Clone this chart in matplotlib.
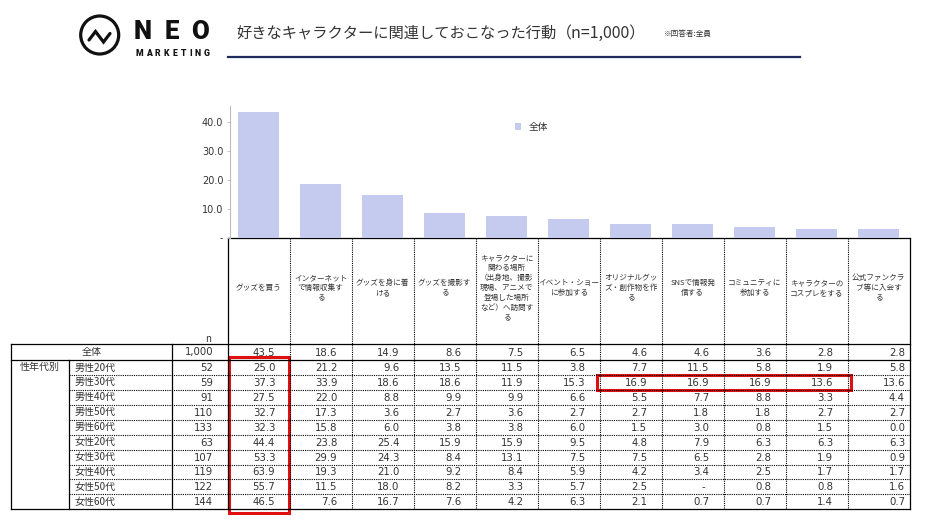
import matplotlib
matplotlib.use('Agg')
import matplotlib.pyplot as plt
from matplotlib.patches import Circle, Rectangle
from matplotlib.lines import Line2D

plt.rcParams['font.family'] = ['Noto Sans CJK JP', 'DejaVu Sans']

# ---- data ----
actions = [
    'グッズを買う',
    'インターネット\nで情報収集す\nる',
    'グッズを身に着\nける',
    'グッズを撮影す\nる',
    'キャラクターに\n関わる場所\n（出身地、撮影\n現場、アニメで\n登場した場所\nなど）へ訪問す\nる',
    'イベント・ショー\nに参加する',
    'オリジナルグッ\nズ・創作物を作\nる',
    'SNSで情報発\n信する',
    'コミュニティに\n参加する',
    'キャラクターの\nコスプレをする',
    '公式ファンクラ\nブ等に入会す\nる',
]
row_labels = ['全体', '男性20代', '男性30代', '男性40代', '男性50代', '男性60代',
              '女性20代', '女性30代', '女性40代', '女性50代', '女性60代']
group_label = '性年代別'
n_values = [1000, 52, 59, 91, 110, 133, 63, 107, 119, 122, 144]
table_values = [
    [43.5, 18.6, 14.9, 8.6, 7.5, 6.5, 4.6, 4.6, 3.6, 2.8, 2.8],
    [25.0, 21.2, 9.6, 13.5, 11.5, 3.8, 7.7, 11.5, 5.8, 1.9, 5.8],
    [37.3, 33.9, 18.6, 18.6, 11.9, 15.3, 16.9, 16.9, 16.9, 13.6, 13.6],
    [27.5, 22.0, 8.8, 9.9, 9.9, 6.6, 5.5, 7.7, 8.8, 3.3, 4.4],
    [32.7, 17.3, 3.6, 2.7, 3.6, 2.7, 2.7, 1.8, 1.8, 2.7, 2.7],
    [32.3, 15.8, 6.0, 3.8, 3.8, 6.0, 1.5, 3.0, 0.8, 1.5, 0.0],
    [44.4, 23.8, 25.4, 15.9, 15.9, 9.5, 4.8, 7.9, 6.3, 6.3, 6.3],
    [53.3, 29.9, 24.3, 8.4, 13.1, 7.5, 7.5, 6.5, 2.8, 1.9, 0.9],
    [63.9, 19.3, 21.0, 9.2, 8.4, 5.9, 4.2, 3.4, 2.5, 1.7, 1.7],
    [55.7, 11.5, 18.0, 8.2, 3.3, 5.7, 2.5, None, 0.8, 0.8, 1.6],
    [46.5, 7.6, 16.7, 7.6, 4.2, 6.3, 2.1, 0.7, 0.7, 1.4, 0.7],
]
overall = table_values[0]
y_ticks = [0, 10, 20, 30, 40]
y_tick_labels = ['-', '10.0', '20.0', '30.0', '40.0']
title = '好きなキャラクターに関連しておこなった行動'
title_n = '（n=1,000）'
note = '※回答者:全員'

# ---- layout (pixels) ----
W, H = 936, 525
col_left = 227.7
col_w = 62.0
col_x = [col_left + col_w * i for i in range(len(actions) + 1)]
tbl_left, grp_x, n_x = 11, 69.3, 171.7
head_top, rows_top, first_bottom, tbl_bottom = 238, 344, 360, 509.3
row_h = (tbl_bottom - first_bottom) / (len(row_labels) - 1)
row_y = [rows_top, first_bottom] + [first_bottom + row_h * i for i in range(1, len(row_labels))]
ink = '#333333'
bar_color = '#c4cbee'

fig = plt.figure(figsize=(W / 100, H / 100), dpi=100)
ov = fig.add_axes([0, 0, 1, 1])
ov.set_xlim(0, W)
ov.set_ylim(H, 0)
ov.axis('off')

# ---- bar chart ----
zero_y, top_y = 237.5, 106
ax = fig.add_axes([col_x[0] / W, 1 - zero_y / H, (col_x[-1] - col_x[0]) / W, (zero_y - top_y) / H])
ax.patch.set_alpha(0)
xs = list(range(len(actions)))
ax.bar(xs, overall, width=0.656, color=bar_color, label='全体', zorder=2)
ax.set_xlim(-0.5, len(actions) - 0.5)
ax.set_ylim(0, 45.7)
ax.set_yticks(y_ticks)
ax.set_yticklabels(y_tick_labels)
ax.set_xticks([])
ax.tick_params(axis='y', length=2.2, width=0.6, color='#bdbdbd', pad=2.5,
               labelsize=7, labelcolor=ink, labelfontfamily='DejaVu Sans')
for s in ['top', 'right', 'bottom']:
    ax.spines[s].set_visible(False)
ax.spines['left'].set_color('#bdbdbd')
ax.spines['left'].set_linewidth(0.8)
ax.spines['left'].set_position(('outward', -1.5))
ax.legend(loc='center', bbox_to_anchor=(532 / W, 1 - 127 / H), bbox_transform=fig.transFigure,
          frameon=False, fontsize=7, handlelength=0.6, handleheight=0.6, handletextpad=0.8,
          labelcolor=ink)

# ---- header / title ----
ov.add_patch(Circle((99.7, 35), 19, fill=False, lw=2.3, color='#111111'))
ov.add_line(Line2D([89, 95.5, 103.5, 110], [40, 31.5, 42, 33.5], lw=2.3, color='#111111',
                   solid_capstyle='round', solid_joinstyle='miter'))
for ch, x in zip('NEO', [143, 172, 200.5]):
    ov.text(x, 32, ch, ha='center', va='center', fontsize=18.5, fontweight='heavy',
            family='Roboto', color='#111111')

# letter-spaced MARKETING, fitted between x=135 and x=210
renderer = fig.canvas.get_renderer()
letters = [ov.text(0, 53.5, ch, ha='left', va='center', fontsize=6.2, fontweight='heavy',
                   family='Roboto', color='#111111') for ch in 'MARKETING']
widths = [t.get_window_extent(renderer).width for t in letters]
gap = (75 - sum(widths)) / (len(letters) - 1)
x = 135
for t, w in zip(letters, widths):
    t.set_x(x)
    x += w + gap

ov.text(236, 33, title, ha='left', va='center', fontsize=11, color=ink)
ov.text(556, 33, title_n, ha='left', va='center', fontsize=11.5, color=ink)
ov.text(664, 34, note, ha='left', va='center', fontsize=5.5, color=ink)
ov.add_line(Line2D([228, 800], [57, 57], lw=1.6, color='#1f2a5c'))

# ---- table lines ----
solid = dict(color='black', lw=0.9)
dotted = dict(color='black', lw=0.8, linestyle=(0, (1, 1)))
ov.add_line(Line2D([col_x[0], col_x[-1]], [head_top, head_top], **solid))
ov.add_line(Line2D([col_x[0], col_x[0]], [head_top, tbl_bottom], **solid))
ov.add_line(Line2D([col_x[-1], col_x[-1]], [head_top, tbl_bottom], **solid))
for x in col_x[1:-1]:
    ov.add_line(Line2D([x, x], [head_top, tbl_bottom], **dotted))
for y in [rows_top, first_bottom, tbl_bottom]:
    ov.add_line(Line2D([tbl_left, col_x[-1]], [y, y], **solid))
ov.add_line(Line2D([tbl_left, tbl_left], [rows_top, tbl_bottom], **solid))
ov.add_line(Line2D([n_x, n_x], [rows_top, tbl_bottom], **solid))
ov.add_line(Line2D([grp_x, grp_x], [first_bottom, tbl_bottom], **solid))
for y in row_y[2:-1]:
    ov.add_line(Line2D([grp_x, col_x[-1]], [y, y], **dotted))

# ---- table text ----
for i, label in enumerate(actions):
    cx = (col_x[i] + col_x[i + 1]) / 2
    ov.text(cx, 288, label, ha='center', va='center', fontsize=5.5, color=ink,
            linespacing=1.32, multialignment='center')
ov.text(208, 339, 'n', ha='center', va='center', fontsize=7, color=ink)

for r, label in enumerate(row_labels):
    cy = (row_y[r] + row_y[r + 1]) / 2
    if r == 0:
        ov.text((tbl_left + n_x) / 2, cy, label, ha='center', va='center', fontsize=7.2, color=ink)
    else:
        ov.text(grp_x + 5, cy, label, ha='left', va='center', fontsize=7.2, color=ink)
    ov.text(col_x[0] - 14.4, cy + 0.5, f'{n_values[r]:,}', ha='right', va='center',
            fontsize=7.3, family='DejaVu Sans', color=ink)
    for c, v in enumerate(table_values[r]):
        right = col_x[c + 1] - (4.7 if c == len(actions) - 1 else 14.4)
        txt = '-' if v is None else f'{v:.1f}'
        if v is None:
            right -= 4
        ov.text(right, cy + 0.5, txt, ha='right', va='center', fontsize=7.3,
                family='DejaVu Sans', color=ink)
ov.text(20, (row_y[1] + row_y[2]) / 2, group_label, ha='left', va='center', fontsize=7.2, color=ink)

# ---- highlight boxes ----
red = dict(fill=False, edgecolor='#e01010', lw=2.2)
ov.add_patch(Rectangle((col_x[0] + 1.3, row_y[1] - 2.7), col_w - 2.3, row_y[-1] - row_y[1] + 6.7, **red))
ov.add_patch(Rectangle((col_x[6] - 3, row_y[2] + 0.2), col_x[10] - col_x[6] + 6.3, row_h - 0.5, **red))

fig.savefig('out.png', dpi=100)
